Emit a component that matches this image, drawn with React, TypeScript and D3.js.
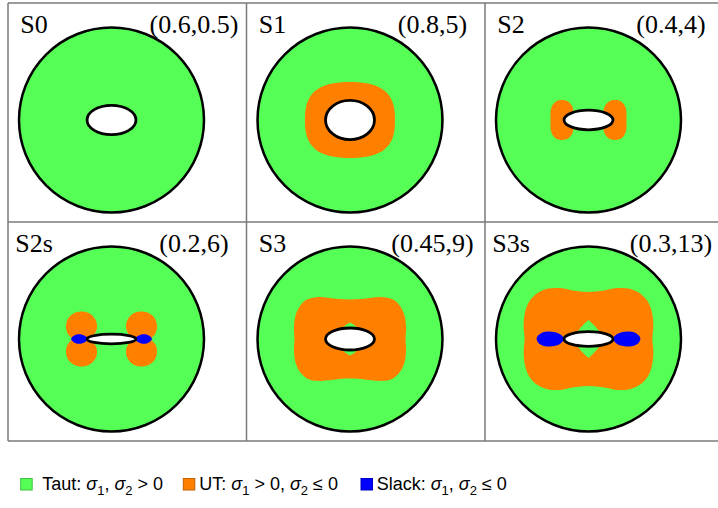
import React, { useEffect, useRef } from 'react';
import * as d3 from 'd3';

// Panel names, hole aspect ratio (b/a) and load value shown as "(b/a,load)"
const panelNames = ['S0', 'S1', 'S2', 'S2s', 'S3', 'S3s'];
const holeAspect = [0.6, 0.8, 0.4, 0.2, 0.45, 0.3];
const loadValue = [0.5, 5, 4, 6, 9, 13];

// Outer boundary radius, in units of the hole semi-major axis
const outerRadius = 3.78;

// UT (orange) boundaries. "ring" shapes: one quadrant from (x,0) to (0,y).
const utS1 = [[1.84, 0], [1.8, 0.52], [1.66, 0.9], [1.43, 1.18], [1.1, 1.38], [0.66, 1.5], [0, 1.55]];
const utS3 = [[2.27, 0], [2.29, 0.49], [2.22, 0.98], [2.04, 1.35], [1.76, 1.61], [1.35, 1.71], [0.9, 1.69], [0.45, 1.63], [0, 1.61]];
const utS3s = [[2.61, 0], [2.65, 0.53], [2.59, 1.1], [2.41, 1.55], [2.08, 1.88], [1.63, 2.06], [1.14, 2.08], [0.65, 1.98], [0, 1.92]];

// UT lobes beside the hole: upper half of the right lobe, outer axis point to inner axis point
const utS2 = [[1.55, 0], [1.55, 0.35], [1.49, 0.57], [1.33, 0.76], [1.08, 0.82], [0.84, 0.76], [0.67, 0.57], [0.61, 0.35], [0.61, 0]];
const utS2s = [[1.63, 0], [1.8, 0.24], [1.86, 0.53], [1.76, 0.86], [1.51, 1.06], [1.18, 1.12], [0.86, 1.02], [0.65, 0.78], [0.59, 0.49], [0.67, 0.24], [0.82, 0.1], [0.9, 0]];

// Taut pockets inside the UT zone, above and below the hole (one quadrant)
const tautS3 = [[0.57, 0], [0.49, 0.24], [0.35, 0.42], [0.18, 0.57], [0, 0.67]];
const tautS3s = [[0.63, 0], [0.58, 0.12], [0.45, 0.3], [0.3, 0.49], [0.14, 0.65], [0, 0.78]];

// Slack (blue) zones at the hole tips: upper half, inner to outer
const slackS2s = [[0.94, 0], [1.06, 0.11], [1.22, 0.18], [1.43, 0.18], [1.57, 0.11], [1.65, 0]];
const slackS3s = [[1.0, 0], [1.14, 0.18], [1.35, 0.28], [1.63, 0.31], [1.88, 0.27], [2.06, 0.14], [2.12, 0]];

const legendLabels = ['Taut: σ_1, σ_2 > 0', 'UT: σ_1 > 0, σ_2 ≤ 0', 'Slack: σ_1, σ_2 ≤ 0'];

const COLORS = { taut: '#55ff55', ut: '#ff8000', slack: '#0000ff' };

type Pt = number[];

// mirror one quadrant into a closed outline
const mirrorQuad = (q: Pt[]): Pt[] => [
  ...q,
  ...q.slice(0, -1).reverse().map(([x, y]) => [-x, y]),
  ...q.slice(1).map(([x, y]) => [-x, -y]),
  ...q.slice(1, -1).reverse().map(([x, y]) => [x, -y]),
];

// close an upper half (on the x axis at both ends) with its lower mirror
const mirrorHalf = (h: Pt[]): Pt[] => [
  ...h,
  ...h.slice(1, -1).reverse().map(([x, y]) => [x, -y]),
];

const flipX = (pts: Pt[]): Pt[] => pts.map(([x, y]) => [-x, y]);

const panels = [
  { ring: null, lobes: null, taut: null, slack: null },
  { ring: utS1, lobes: null, taut: null, slack: null },
  { ring: null, lobes: utS2, taut: null, slack: null },
  { ring: null, lobes: utS2s, taut: null, slack: slackS2s },
  { ring: utS3, lobes: null, taut: tautS3, slack: null },
  { ring: utS3s, lobes: null, taut: tautS3s, slack: slackS3s },
];

const App = () => {
  const ref = useRef<SVGSVGElement>(null);

  useEffect(() => {
    const svg = d3.select(ref.current);
    svg.selectAll('*').remove();

    const width = 718;
    const height = 508;

    svg.append('rect').attr('width', width).attr('height', height).attr('fill', '#fff');

    // Grid of panels
    const cellW = 238.5;
    const cellH = 219;
    const col = d3.scaleBand<number>().domain([0, 1, 2]).range([8, 8 + 3 * cellW]);
    const row = d3.scaleBand<number>().domain([0, 1]).range([3, 3 + 2 * cellH]);
    const R = 92.5;

    panelNames.forEach((name, i) => {
      const x0 = col(i % 3) as number;
      const y0 = row(Math.floor(i / 3)) as number;
      const cx = x0 + 103.5;
      const cy = y0 + 117;

      const xs = d3.scaleLinear().domain([-outerRadius, outerRadius]).range([cx - R, cx + R]);
      const ys = d3.scaleLinear().domain([-outerRadius, outerRadius]).range([cy + R, cy - R]);

      const smooth = d3.line<Pt>().x(d => xs(d[0])).y(d => ys(d[1])).curve(d3.curveCatmullRomClosed.alpha(0.5));
      const sharp = d3.line<Pt>().x(d => xs(d[0])).y(d => ys(d[1])).curve(d3.curveLinearClosed);

      const g = svg.append('g');
      const spec = panels[i];

      // taut disk
      g.append('circle').attr('cx', cx).attr('cy', cy).attr('r', R).attr('fill', COLORS.taut);

      if (spec.ring) {
        g.append('path').attr('d', smooth(mirrorQuad(spec.ring))).attr('fill', COLORS.ut);
      }
      if (spec.lobes) {
        const lobe = mirrorHalf(spec.lobes);
        g.append('path').attr('d', smooth(lobe)).attr('fill', COLORS.ut);
        g.append('path').attr('d', smooth(flipX(lobe))).attr('fill', COLORS.ut);
      }
      if (spec.taut) {
        g.append('path').attr('d', sharp(mirrorQuad(spec.taut))).attr('fill', COLORS.taut);
      }
      if (spec.slack) {
        const s = mirrorHalf(spec.slack);
        g.append('path').attr('d', smooth(s)).attr('fill', COLORS.slack);
        g.append('path').attr('d', smooth(flipX(s))).attr('fill', COLORS.slack);
      }

      // hole
      const rx = xs(1) - cx;
      g.append('ellipse')
        .attr('cx', cx).attr('cy', cy)
        .attr('rx', rx).attr('ry', rx * holeAspect[i])
        .attr('fill', '#fff').attr('stroke', '#000').attr('stroke-width', 2.8);

      // outer boundary
      g.append('circle').attr('cx', cx).attr('cy', cy).attr('r', R)
        .attr('fill', 'none').attr('stroke', '#000').attr('stroke-width', 2.5);

      // labels
      g.append('text')
        .attr('x', x0 + 26).attr('y', y0 + 30)
        .attr('text-anchor', 'middle')
        .style('font-family', '"Liberation Serif", "Times New Roman", serif')
        .style('font-size', '26px')
        .text(name);
      g.append('text')
        .attr('x', x0 + 186).attr('y', y0 + 30)
        .attr('text-anchor', 'middle')
        .style('font-family', '"Liberation Serif", "Times New Roman", serif')
        .style('font-size', '26px')
        .text(`(${holeAspect[i]},${loadValue[i]})`);
    });

    // grid lines
    const grid = svg.append('g').attr('stroke', '#7a7a7a').attr('stroke-width', 1.5);
    [0, 1, 2, 3].forEach(c => {
      const x = 8 + c * cellW;
      grid.append('line').attr('x1', x).attr('x2', x).attr('y1', 3).attr('y2', 3 + 2 * cellH);
    });
    [0, 1, 2].forEach(r => {
      const y = 3 + r * cellH;
      grid.append('line').attr('x1', 8).attr('x2', 8 + 3 * cellW).attr('y1', y).attr('y2', y);
    });

    // legend
    const legendColors = [COLORS.taut, COLORS.ut, COLORS.slack];
    const squareX = [20.7, 183.3, 361];
    const textX = [42.3, 199.3, 376.7];
    legendLabels.forEach((label, i) => {
      svg.append('rect')
        .attr('x', squareX[i]).attr('y', 478.5)
        .attr('width', 11.5).attr('height', 11.5)
        .attr('fill', legendColors[i])
        .attr('stroke', d3.color(legendColors[i])!.darker(0.8).toString())
        .attr('stroke-width', 1);

      const t = svg.append('text')
        .attr('x', textX[i]).attr('y', 490)
        .style('font-family', '"Liberation Sans", Arial, sans-serif')
        .style('font-size', '18px')
        .attr('fill', '#000');
      let shift = 0;
      label.split(/(σ_\d)/).forEach(part => {
        if (!part) return;
        const m = part.match(/^σ_(\d)$/);
        if (m) {
          t.append('tspan').attr('dy', shift).style('font-style', 'italic').text('σ');
          t.append('tspan').attr('dy', 4.5).style('font-size', '13px').text(m[1]);
          shift = -4.5;
        } else {
          t.append('tspan').attr('dy', shift).text(part);
          shift = 0;
        }
      });
    });
  }, []);

  return (
    <svg
      ref={ref}
      width={718}
      height={508}
      style={{ position: 'absolute', left: 0, top: 0 }}
    />
  );
};

export default App;
